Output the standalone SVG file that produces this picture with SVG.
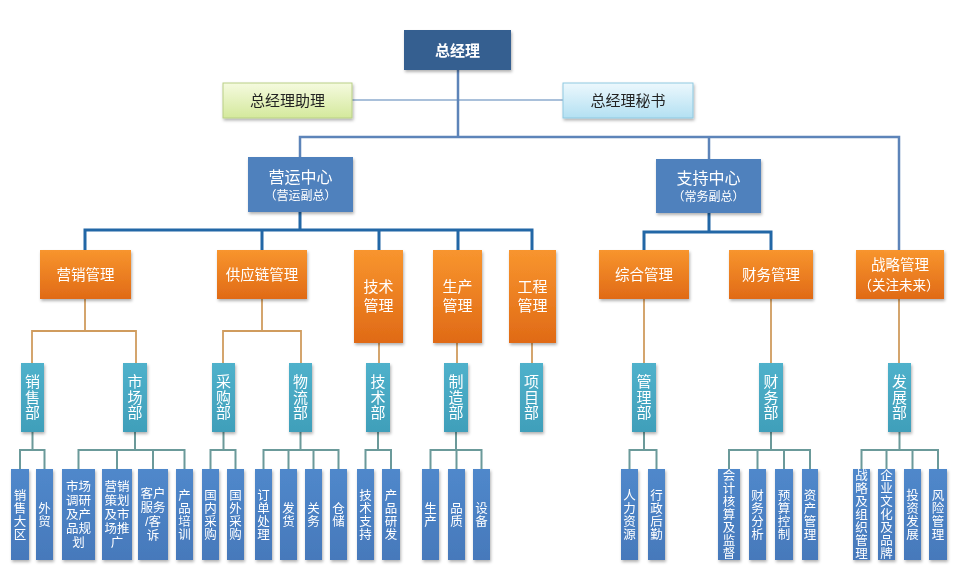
<svg xmlns="http://www.w3.org/2000/svg" width="959" height="572" viewBox="0 0 959 572">
<defs>
<linearGradient id="gOr" x1="0" y1="0" x2="0" y2="1"><stop offset="0" stop-color="#f8952e"/><stop offset="1" stop-color="#e06a16"/></linearGradient>
<linearGradient id="gTe" x1="0" y1="0" x2="0" y2="1"><stop offset="0" stop-color="#4fb1cb"/><stop offset="1" stop-color="#409fba"/></linearGradient>
<linearGradient id="gBl" x1="0" y1="0" x2="0" y2="1"><stop offset="0" stop-color="#5088cb"/><stop offset="1" stop-color="#4679bb"/></linearGradient>
<linearGradient id="gGr" x1="0" y1="0" x2="0" y2="1"><stop offset="0" stop-color="#f5fadf"/><stop offset="1" stop-color="#d4e99c"/></linearGradient>
<linearGradient id="gCy" x1="0" y1="0" x2="0" y2="1"><stop offset="0" stop-color="#ecf8fd"/><stop offset="1" stop-color="#b3e0f2"/></linearGradient>
<filter id="sh" x="-20%" y="-20%" width="150%" height="150%"><feDropShadow dx="1" dy="2" stdDeviation="1.5" flood-color="#000" flood-opacity="0.3"/></filter>
</defs>
<style>
text{font-family:"Noto Sans CJK SC","Noto Sans",sans-serif;text-anchor:middle;fill:#fff}
.ml{font-family:"Liberation Sans","Noto Sans CJK SC",sans-serif}
.top{fill:#355e90}
.ctr{fill:#4f81bd}
.or{fill:url(#gOr)}
.te{fill:url(#gTe)}
.bl{fill:url(#gBl)}
.box{filter:url(#sh)}
.c1{fill:none;stroke:#5d84b9;stroke-width:2.5}
.ca{fill:none;stroke:#a9c0da;stroke-width:2}
.c2{fill:none;stroke:#2267a6;stroke-width:3}
.c3{fill:none;stroke:#d09c5e;stroke-width:1.8}
.c4{fill:none;stroke:#6b9a9a;stroke-width:2}
.t15{font-size:15px}
.t14{font-size:14.5px}
.tt{font-size:15px;writing-mode:vertical-rl;letter-spacing:0.5px}
.tv{font-size:12.5px;writing-mode:vertical-rl;letter-spacing:0.5px}
.tb{font-size:12.5px}
.dark{fill:#222;font-size:15px}
</style>
<rect width="959" height="572" fill="#fff"/>
<g id="connectors">
<path class="ca" d="M352 100 H563"/>
<path class="c1" d="M458 70 V137 M300 157 V137 H899 V250 M709 137 V159"/>
<path class="c2" d="M300 212 V230 M85 250 V230 H532 V250 M262 230 V250 M379 230 V250 M458 230 V250 M709 213 V232 M644 250 V232 H771 V250"/>
<path class="c3" d="M85 299 V331 M32 363 V331 H136 V363 M262 299 V331 M223 363 V331 H301 V363 M379 343 V363 M457 343 V363 M532 343 V363 M644 299 V363 M771 299 V363 M899 299 V363"/>
<path class="c4" d="M32.5 432 V450 M20 469 V450 H44.5 V469 M135 432 V450 M78.5 469 V450 H184.5 V469 M117 450 V469 M153 450 V469 M223.5 432 V450 M210.5 469 V450 H235.5 V469 M300.5 432 V450 M263.5 469 V450 H338.5 V469 M288.5 450 V469 M313.5 450 V469 M378 432 V450 M365.5 469 V450 H391 V469 M456 432 V450 M430.5 469 V450 H481.5 V469 M456.5 450 V469 M644 432 V450 M629.5 469 V450 H656.5 V469 M771 432 V450 M729 469 V450 H810 V469 M757.5 450 V469 M784 450 V469 M899.5 432 V450 M861.5 469 V450 H938 V469 M886.5 450 V469 M912.5 450 V469"/>
</g>
<g id="n-gm" class="box"><rect class="top" x="404" y="30" width="107" height="40"/><text x="457.5" y="55.5" font-size="15" font-weight="bold">总经理</text></g>
<g id="n-assist" class="box"><rect x="223" y="83" width="129" height="35" fill="url(#gGr)" stroke="#b9cf86" stroke-width="1"/><text class="dark" x="287.5" y="106">总经理助理</text></g>
<g id="n-secr" class="box"><rect x="563" y="83" width="130" height="35" fill="url(#gCy)" stroke="#8fc9e1" stroke-width="1"/><text class="dark" x="628" y="106">总经理秘书</text></g>
<g id="n-ops" class="box"><rect class="ctr" x="248" y="157" width="105" height="55"/><text class="ml" x="300.5" y="183" font-size="16">营运中心</text><text class="ml" x="300.5" y="200" font-size="12">（营运副总）</text></g>
<g id="n-sup" class="box"><rect class="ctr" x="656" y="159" width="105" height="54"/><text class="ml" x="708.5" y="184" font-size="16">支持中心</text><text class="ml" x="708.5" y="201" font-size="12">（常务副总）</text></g>
<g id="n-yx" class="box"><rect class="or" x="40" y="250" width="91" height="49"/><text class="t14" x="85.5" y="280">营销管理</text></g>
<g id="n-gyl" class="box"><rect class="or" x="217" y="250" width="90" height="49"/><text class="t14" x="262" y="280">供应链管理</text></g>
<g id="n-js" class="box"><rect class="or" x="354" y="250" width="49" height="93"/><text class="t15 ml" x="378.5" y="292">技术</text><text class="t15 ml" x="378.5" y="311">管理</text></g>
<g id="n-sc" class="box"><rect class="or" x="433" y="250" width="49" height="93"/><text class="t15 ml" x="457.5" y="292">生产</text><text class="t15 ml" x="457.5" y="311">管理</text></g>
<g id="n-gc" class="box"><rect class="or" x="509" y="250" width="47" height="93"/><text class="t15 ml" x="532.5" y="292">工程</text><text class="t15 ml" x="532.5" y="311">管理</text></g>
<g id="n-zh" class="box"><rect class="or" x="599" y="250" width="90" height="49"/><text class="t14" x="644" y="280">综合管理</text></g>
<g id="n-cw" class="box"><rect class="or" x="729" y="250" width="84" height="49"/><text class="t14" x="771" y="280">财务管理</text></g>
<g id="n-zl" class="box"><rect class="or" x="856" y="250" width="88" height="49"/><text class="t14 ml" x="900" y="270">战略管理</text><text class="ml" x="899" y="290" font-size="13.5">（关注未来）</text></g>
<g id="n-xsb" class="box"><rect class="te" x="21" y="363" width="23" height="69"/><text class="tt" x="32.5" y="397.5">销售部</text></g>
<g id="n-scb" class="box"><rect class="te" x="123" y="363" width="24" height="69"/><text class="tt" x="135" y="397.5">市场部</text></g>
<g id="n-cgb" class="box"><rect class="te" x="212" y="363" width="23" height="69"/><text class="tt" x="223.5" y="397.5">采购部</text></g>
<g id="n-wlb" class="box"><rect class="te" x="289" y="363" width="23" height="69"/><text class="tt" x="300.5" y="397.5">物流部</text></g>
<g id="n-jsb" class="box"><rect class="te" x="366" y="363" width="24" height="69"/><text class="tt" x="378" y="397.5">技术部</text></g>
<g id="n-zzb" class="box"><rect class="te" x="444" y="363" width="24" height="69"/><text class="tt" x="456" y="397.5">制造部</text></g>
<g id="n-xmb" class="box"><rect class="te" x="520" y="363" width="23" height="69"/><text class="tt" x="531.5" y="397.5">项目部</text></g>
<g id="n-glb" class="box"><rect class="te" x="632" y="363" width="24" height="69"/><text class="tt" x="644" y="397.5">管理部</text></g>
<g id="n-cwb" class="box"><rect class="te" x="759" y="363" width="24" height="69"/><text class="tt" x="771" y="397.5">财务部</text></g>
<g id="n-fzb" class="box"><rect class="te" x="888" y="363" width="23" height="69"/><text class="tt" x="899.5" y="397.5">发展部</text></g>
<g id="b-xsdq" class="box"><rect class="bl" x="11" y="469" width="18" height="91"/><text class="tv" x="20" y="514.5">销售大区</text></g>
<g id="b-wm" class="box"><rect class="bl" x="36" y="469" width="17" height="91"/><text class="tv" x="44.5" y="514.5">外贸</text></g>
<g id="b-scdy" class="box"><rect class="bl" x="62" y="469" width="33" height="91"/><text class="tb ml"><tspan x="78.5" y="491">市场</tspan><tspan x="78.5" y="505">调研</tspan><tspan x="78.5" y="519">及产</tspan><tspan x="78.5" y="533">品规</tspan><tspan x="78.5" y="547">划</tspan></text></g>
<g id="b-yxch" class="box"><rect class="bl" x="102" y="469" width="30" height="91"/><text class="tb ml"><tspan x="117" y="491">营销</tspan><tspan x="117" y="505">策划</tspan><tspan x="117" y="519">及市</tspan><tspan x="117" y="533">场推</tspan><tspan x="117" y="547">广</tspan></text></g>
<g id="b-khfw" class="box"><rect class="bl" x="138" y="469" width="30" height="91"/><text class="tb ml"><tspan x="153" y="498">客户</tspan><tspan x="153" y="512">服务</tspan><tspan x="153" y="526">/客</tspan><tspan x="153" y="540">诉</tspan></text></g>
<g id="b-cppx" class="box"><rect class="bl" x="176" y="469" width="17" height="91"/><text class="tv" x="184.5" y="514.5">产品培训</text></g>
<g id="b-gncg" class="box"><rect class="bl" x="202" y="469" width="17" height="91"/><text class="tv" x="210.5" y="514.5">国内采购</text></g>
<g id="b-gwcg" class="box"><rect class="bl" x="227" y="469" width="17" height="91"/><text class="tv" x="235.5" y="514.5">国外采购</text></g>
<g id="b-ddcl" class="box"><rect class="bl" x="255" y="469" width="17" height="91"/><text class="tv" x="263.5" y="514.5">订单处理</text></g>
<g id="b-fh" class="box"><rect class="bl" x="280" y="469" width="17" height="91"/><text class="tv" x="288.5" y="514.5">发货</text></g>
<g id="b-gw" class="box"><rect class="bl" x="305" y="469" width="17" height="91"/><text class="tv" x="313.5" y="514.5">关务</text></g>
<g id="b-cc" class="box"><rect class="bl" x="330" y="469" width="17" height="91"/><text class="tv" x="338.5" y="514.5">仓储</text></g>
<g id="b-jszc" class="box"><rect class="bl" x="357" y="469" width="17" height="91"/><text class="tv" x="365.5" y="514.5">技术支持</text></g>
<g id="b-cpyf" class="box"><rect class="bl" x="382" y="469" width="18" height="91"/><text class="tv" x="391" y="514.5">产品研发</text></g>
<g id="b-sc" class="box"><rect class="bl" x="422" y="469" width="17" height="91"/><text class="tv" x="430.5" y="514.5">生产</text></g>
<g id="b-pz" class="box"><rect class="bl" x="448" y="469" width="17" height="91"/><text class="tv" x="456.5" y="514.5">品质</text></g>
<g id="b-sb" class="box"><rect class="bl" x="473" y="469" width="17" height="91"/><text class="tv" x="481.5" y="514.5">设备</text></g>
<g id="b-rlzy" class="box"><rect class="bl" x="621" y="469" width="17" height="91"/><text class="tv" x="629.5" y="514.5">人力资源</text></g>
<g id="b-xzhq" class="box"><rect class="bl" x="648" y="469" width="17" height="91"/><text class="tv" x="656.5" y="514.5">行政后勤</text></g>
<g id="b-kjhs" class="box"><rect class="bl" x="718" y="469" width="22" height="91"/><text class="tv" x="729" y="514.5">会计核算及监督</text></g>
<g id="b-cwfx" class="box"><rect class="bl" x="749" y="469" width="17" height="91"/><text class="tv" x="757.5" y="514.5">财务分析</text></g>
<g id="b-yskz" class="box"><rect class="bl" x="775" y="469" width="18" height="91"/><text class="tv" x="784" y="514.5">预算控制</text></g>
<g id="b-zcgl" class="box"><rect class="bl" x="802" y="469" width="16" height="91"/><text class="tv" x="810" y="514.5">资产管理</text></g>
<g id="b-zlzz" class="box"><rect class="bl" x="853" y="469" width="17" height="91"/><text class="tv" x="861.5" y="514.5">战略及组织管理</text></g>
<g id="b-qywh" class="box"><rect class="bl" x="878" y="469" width="17" height="91"/><text class="tv" x="886.5" y="514.5">企业文化及品牌</text></g>
<g id="b-tzfz" class="box"><rect class="bl" x="904" y="469" width="17" height="91"/><text class="tv" x="912.5" y="514.5">投资发展</text></g>
<g id="b-fxgl" class="box"><rect class="bl" x="929" y="469" width="18" height="91"/><text class="tv" x="938" y="514.5">风险管理</text></g>
</svg>
